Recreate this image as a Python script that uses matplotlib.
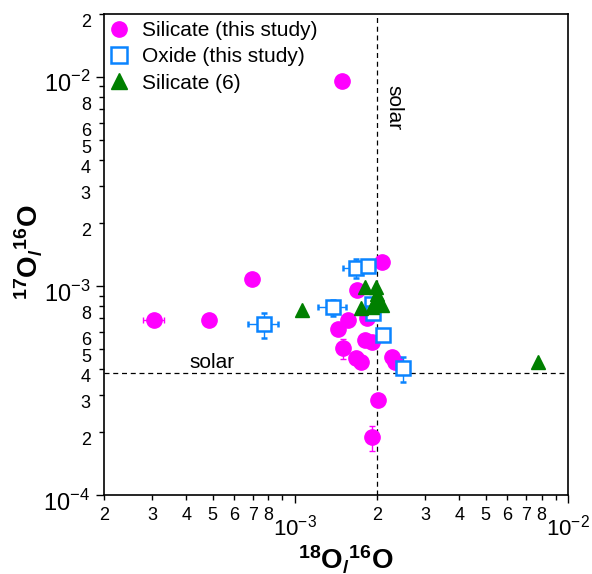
#!/usr/bin/env python3
"""
Oxygen isotope ratios of presolar silicate and oxide grains,
17O/16O against 18O/16O on log-log axes with solar reference lines.
"""
import matplotlib
matplotlib.use("Agg")
import matplotlib.pyplot as plt
from matplotlib.lines import Line2D
from matplotlib.ticker import FixedLocator, FixedFormatter
from matplotlib.transforms import ScaledTranslation

plt.rcParams["font.family"] = ["Liberation Sans", "DejaVu Sans"]
plt.rcParams["mathtext.fontset"] = "custom"
plt.rcParams["mathtext.rm"] = "Liberation Sans"
plt.rcParams["mathtext.bf"] = "Liberation Sans:bold"

# Solar isotope ratios
SOLAR_18_16 = 2.005e-3
SOLAR_17_16 = 3.829e-4

# Silicate grains (this study)
silicate_o18 = [1.49e-3, 3.05e-4, 4.84e-4, 6.96e-4, 2.09e-3, 1.69e-3, 1.57e-3,
                1.44e-3, 1.84e-3, 1.80e-3, 1.91e-3, 1.50e-3, 1.68e-3, 1.75e-3,
                2.26e-3, 2.32e-3, 2.01e-3, 1.91e-3]
silicate_o17 = [9.57e-3, 6.88e-4, 6.88e-4, 1.08e-3, 1.30e-3, 9.57e-4, 6.88e-4,
                6.21e-4, 7.01e-4, 5.51e-4, 5.41e-4, 5.03e-4, 4.51e-4, 4.34e-4,
                4.59e-4, 4.34e-4, 2.85e-4, 1.89e-4]
silicate_o18_err = [0, 2.6e-5, 0, 0, 0, 0, 0, 0, 0, 0, 0, 0, 0, 0, 0, 0, 0, 0]
silicate_o17_err = [0, 0, 0, 0, 0, 0, 0, 0, 0, 0, 0, 5.5e-5, 0, 0, 0, 0, 0, 2.6e-5]

# Oxide grains (this study)
oxide_o18 = [1.68e-3, 1.855e-3, 1.38e-3, 1.91e-3, 1.93e-3, 2.11e-3, 2.49e-3, 7.70e-4]
oxide_o17 = [1.216e-3, 1.25e-3, 7.91e-4, 8.2e-4, 7.39e-4, 5.83e-4, 4.04e-4, 6.56e-4]
oxide_o18_err = [1.8e-4, 0, 1.6e-4, 0, 0, 0, 0, 9.5e-5]
oxide_o17_err = [1.25e-4, 0, 7.0e-5, 0, 0, 0, 5.5e-5, 9.0e-5]

# Silicate grains from ref. (6)
ref6_o18 = [1.058e-3, 7.74e-3, 1.80e-3, 1.98e-3, 1.99e-3, 1.98e-3, 1.75e-3,
            1.91e-3, 2.09e-3]
ref6_o17 = [7.68e-4, 4.33e-4, 9.92e-4, 9.86e-4, 9.16e-4, 8.6e-4, 7.82e-4,
            7.96e-4, 8.11e-4]

# Axis ticks and labels
x_major = [1e-3, 1e-2]
x_major_labels = [r"$10^{-3}$", r"$10^{-2}$"]
x_minor = [m * 10.0 ** e for e in (-4, -3) for m in range(2, 10)]
x_minor_labels = ["" if m == 9 else str(m) for e in (-4, -3) for m in range(2, 10)]

y_major = [1e-4, 1e-3, 1e-2]
y_major_labels = [r"$10^{-4}$", r"$10^{-3}$", r"$10^{-2}$"]
y_minor = [m * 10.0 ** e for e in (-4, -3) for m in range(2, 10)] + [2e-2]
y_minor_labels = [str(m) if m in (2, 3, 4, 5, 6, 8) else ""
                  for e in (-4, -3) for m in range(2, 10)] + ["2"]

MAGENTA = "#FF00FF"
BLUE = "#0A84FF"
GREEN = "#008000"


def main():
    fig = plt.figure(figsize=(5.92, 5.74), dpi=100)
    ax = fig.add_axes([0.1757, 0.1376, 0.7838, 0.838])
    ax.set_xscale("log")
    ax.set_yscale("log")
    ax.set_xlim(2e-4, 1e-2)
    ax.set_ylim(1e-4, 2e-2)

    # solar reference lines
    ax.axvline(SOLAR_18_16, color="black", lw=0.9, ls=(0, (4, 3)), zorder=1)
    ax.axhline(SOLAR_17_16, color="black", lw=0.9, ls=(0, (4, 3)), zorder=1)
    ax.text(4.12e-4, 4.06e-4, "solar", fontsize=15, va="baseline", ha="left")
    ax.text(2.12e-3, 9.16e-3, "solar", fontsize=15, rotation=270,
            va="top", ha="left")

    ax.errorbar(silicate_o18, silicate_o17, xerr=silicate_o18_err,
                yerr=silicate_o17_err, fmt="o", color=MAGENTA, ms=11,
                mec=MAGENTA, elinewidth=1, capsize=2, zorder=3)
    ax.errorbar(oxide_o18, oxide_o17, xerr=oxide_o18_err, yerr=oxide_o17_err,
                fmt="s", color=BLUE, mfc="white", mec=BLUE, mew=1.8, ms=10,
                elinewidth=1, capsize=2.5, zorder=4)
    ax.plot(ref6_o18, ref6_o17, "^", color=GREEN, ms=10, zorder=5)

    # ticks
    ax.xaxis.set_major_locator(FixedLocator(x_major))
    ax.xaxis.set_major_formatter(FixedFormatter(x_major_labels))
    ax.xaxis.set_minor_locator(FixedLocator(x_minor))
    ax.xaxis.set_minor_formatter(FixedFormatter(x_minor_labels))
    ax.yaxis.set_major_locator(FixedLocator(y_major))
    ax.yaxis.set_major_formatter(FixedFormatter(y_major_labels))
    ax.yaxis.set_minor_locator(FixedLocator(y_minor))
    ax.yaxis.set_minor_formatter(FixedFormatter(y_minor_labels))

    ax.tick_params(which="major", direction="out", length=6, width=1,
                   labelsize=17)
    ax.tick_params(which="minor", direction="out", length=3.5, width=1,
                   labelsize=13)
    ax.tick_params(axis="x", which="major", pad=8, labelsize=16)
    ax.tick_params(axis="x", which="minor", pad=5)
    ax.tick_params(axis="y", which="major", pad=4)
    ax.tick_params(axis="y", which="minor", pad=6)
    for lab in ax.get_yticklabels(minor=True):
        lab.set_verticalalignment("top")
    # major y labels sit a little below their ticks
    shift = ScaledTranslation(0, -0.05, fig.dpi_scale_trans)
    for lab in ax.get_yticklabels():
        lab.set_transform(lab.get_transform() + shift)

    for side in ax.spines.values():
        side.set_linewidth(1.2)

    ax.set_xlabel(r"$\mathbf{^{18}O_{/}{}^{16}O}$", fontsize=20)
    ax.set_ylabel(r"$\mathbf{^{17}O_{/}{}^{16}O}$", fontsize=20)
    ax.xaxis.set_label_coords(0.5216, -0.100)
    ax.yaxis.set_label_coords(-0.129, 0.505)

    handles = [
        Line2D([], [], ls="none", marker="o", color=MAGENTA, ms=11),
        Line2D([], [], ls="none", marker="s", mfc="white", mec=BLUE,
               mew=1.8, ms=11),
        Line2D([], [], ls="none", marker="^", color=GREEN, ms=11),
    ]
    labels = ["Silicate (this study)", "Oxide (this study)", "Silicate (6)"]
    ax.legend(handles, labels, loc="upper left", bbox_to_anchor=(0.0, 0.994),
              frameon=False, fontsize=15, handlelength=1.0, borderpad=0.2,
              handletextpad=0.6, labelspacing=0.35, borderaxespad=0.0)

    fig.savefig("out.png", dpi=100)


if __name__ == "__main__":
    main()
